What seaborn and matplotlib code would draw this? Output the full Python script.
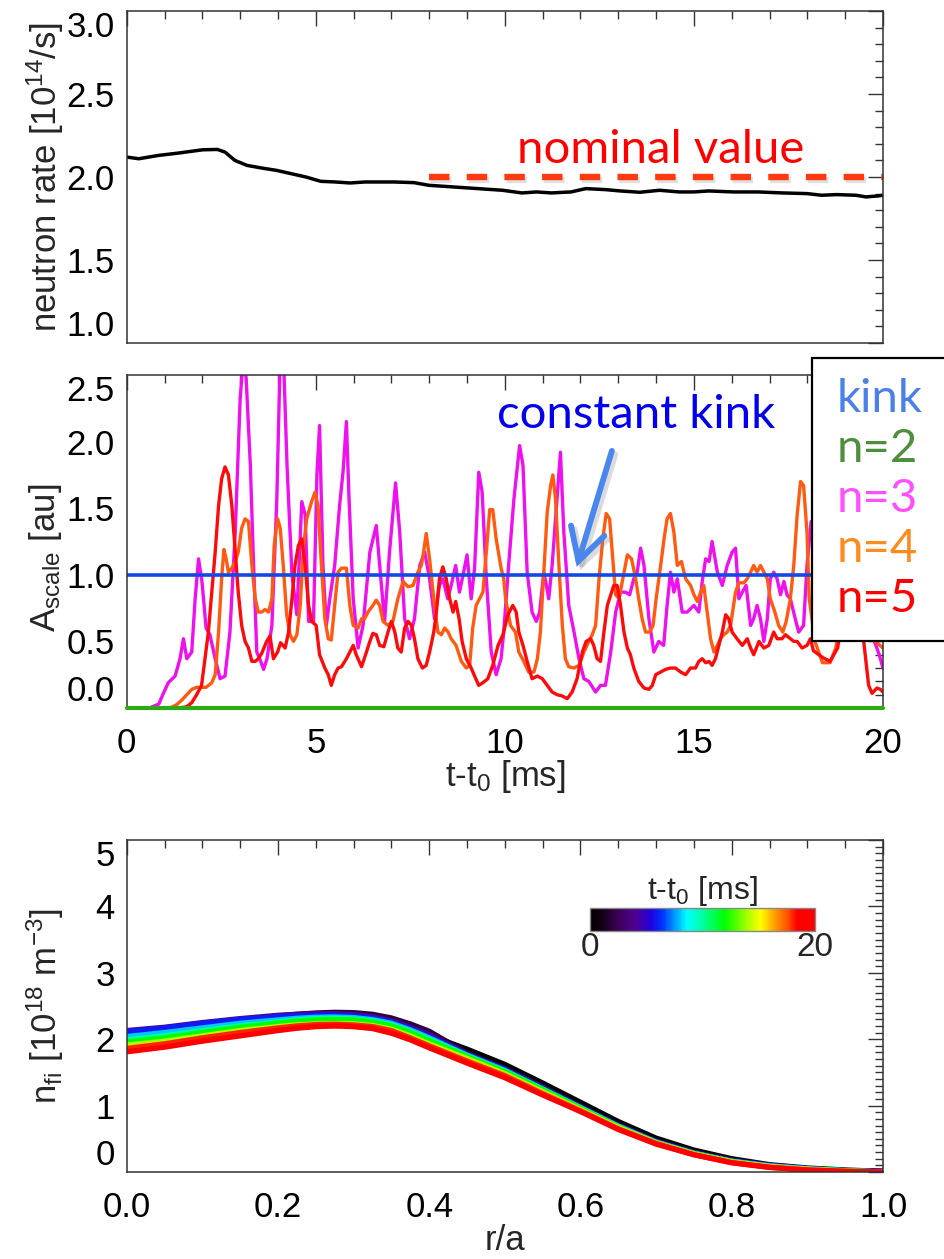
import numpy as np
import pandas as pd
import matplotlib
matplotlib.use("Agg")
import matplotlib.pyplot as plt
import seaborn as sns
from matplotlib import patheffects as pe
from matplotlib.colors import LinearSegmentedColormap, Normalize
from matplotlib.cm import ScalarMappable
from matplotlib.ticker import MultipleLocator
from matplotlib.patches import Rectangle

# ---------------- data ----------------
# neutron rate (top panel)
t_neutron = [0.0, 0.32, 0.84, 1.36, 1.75, 2.01, 2.4, 2.6, 2.86, 3.18, 3.57, 3.96, 4.35, 4.74,
             5.13, 5.52, 5.91, 6.3, 7.08, 7.6, 7.99, 8.64, 9.29, 9.94, 10.45, 10.84, 11.23,
             11.75, 12.14, 12.66, 13.05, 13.57, 14.09, 14.61, 15.0, 15.39, 16.04, 16.69,
             17.34, 17.99, 18.38, 18.77, 19.29, 19.55, 19.87, 20.0]
neutron_rate = [2.12, 2.11, 2.13, 2.144, 2.156, 2.164, 2.166, 2.15, 2.10, 2.07, 2.054, 2.04,
                2.02, 2.0, 1.974, 1.97, 1.964, 1.97, 1.97, 1.966, 1.95, 1.94, 1.93, 1.92,
                1.904, 1.91, 1.904, 1.91, 1.93, 1.924, 1.916, 1.908, 1.92, 1.91, 1.91, 1.916,
                1.91, 1.91, 1.904, 1.90, 1.89, 1.894, 1.89, 1.88, 1.886, 1.89]
nominal_t = [8.0, 20.0]
nominal_rate = [2.0, 2.0]

# mode amplitudes (middle panel)
kink_t = [0.0, 20.0]
kink_A = [1.0, 1.0]
n2_t = [0.0, 20.0]
n2_A = [0.0, 0.0]

n3_t = [0, 0.6, 0.85, 0.97, 1.1, 1.28, 1.41, 1.5, 1.59, 1.72, 1.81, 1.9, 1.99, 2.1, 2.2, 2.34,
        2.47, 2.6, 2.73, 2.87, 3.0, 3.09, 3.16, 3.27, 3.35, 3.44, 3.53, 3.62, 3.71, 3.84, 3.97,
        4.06, 4.15, 4.24, 4.37, 4.5, 4.63, 4.72, 4.81, 4.94, 5.03, 5.1, 5.19, 5.28, 5.37, 5.5,
        5.63, 5.72, 5.81, 5.88, 5.99, 6.12, 6.25, 6.43, 6.6, 6.69, 6.82, 6.95, 7.11, 7.22,
        7.35, 7.48, 7.61, 7.75, 7.88, 8.01, 8.14, 8.27, 8.36, 8.49, 8.58, 8.7, 8.8, 8.91, 9.0,
        9.11, 9.2, 9.31, 9.4, 9.51, 9.64, 9.77, 9.9, 9.97, 10.1, 10.24, 10.39, 10.48, 10.59,
        10.72, 10.83, 10.92, 11.03, 11.1, 11.16, 11.25, 11.38, 11.47, 11.56, 11.69, 11.83,
        11.96, 12.09, 12.22, 12.4, 12.53, 12.66, 12.8, 12.93, 13.06, 13.19, 13.3, 13.41, 13.5,
        13.59, 13.68, 13.81, 13.9, 13.94, 14.07, 14.2, 14.29, 14.38, 14.47, 14.56, 14.69,
        14.82, 15.0, 15.13, 15.22, 15.31, 15.4, 15.48, 15.62, 15.75, 15.88, 16.01, 16.1,
        16.19, 16.28, 16.38, 16.5, 16.58, 16.67, 16.76, 16.85, 16.94, 17.02, 17.11, 17.2,
        17.29, 17.38, 17.46, 17.55, 17.68, 17.77, 17.9, 17.99, 18.1, 18.3, 18.6, 18.9, 19.2,
        19.5, 19.7, 19.8, 19.9, 20.0]
n3_A = [0, 0.0, 0.03, 0.11, 0.19, 0.24, 0.37, 0.52, 0.37, 0.42, 0.82, 1.12, 0.95, 0.6, 0.55,
        0.37, 0.22, 0.24, 0.57, 1.32, 2.32, 2.65, 2.47, 1.82, 1.12, 0.42, 0.36, 0.29, 0.37,
        0.62, 1.57, 2.65, 2.6, 1.82, 1.0, 0.7, 1.55, 1.45, 0.65, 0.65, 1.75, 2.12, 1.07, 0.62,
        0.82, 1.07, 1.52, 1.77, 2.15, 1.57, 0.82, 0.45, 0.62, 1.17, 1.37, 1.07, 0.65, 1.17,
        1.69, 1.32, 0.67, 0.52, 0.67, 1.07, 1.17, 0.97, 0.67, 0.92, 0.97, 0.82, 0.92, 1.07,
        0.87, 1.02, 1.15, 0.82, 1.05, 1.77, 1.62, 0.97, 0.42, 0.25, 0.37, 0.57, 1.07, 1.57,
        1.97, 1.82, 1.02, 0.72, 0.65, 0.72, 1.02, 0.92, 0.82, 1.07, 1.57, 1.92, 1.32, 0.77,
        0.57, 0.37, 0.22, 0.2, 0.12, 0.17, 0.17, 0.42, 0.72, 0.87, 0.87, 0.85, 0.97, 1.02,
        1.2, 1.07, 0.67, 0.5, 0.42, 0.5, 0.47, 0.77, 1.02, 0.87, 0.97, 0.72, 0.72, 0.77, 0.72,
        0.95, 1.12, 1.1, 1.25, 1.02, 0.92, 1.07, 1.17, 1.2, 0.82, 0.87, 0.92, 0.62, 0.67, 0.77,
        0.67, 0.5, 0.67, 0.97, 1.02, 0.97, 0.85, 0.95, 0.85, 0.82, 0.67, 0.57, 0.62, 1.07, 1.4,
        1.1, 0.8, 1.2, 0.9, 0.75, 0.55, 0.48, 0.4, 0.3]

n4_t = [0, 1.15, 1.32, 1.46, 1.59, 1.72, 1.85, 2.1, 2.25, 2.34, 2.43, 2.51, 2.57, 2.63, 2.69,
        2.78, 2.87, 2.95, 3.04, 3.13, 3.22, 3.31, 3.4, 3.48, 3.57, 3.66, 3.75, 3.84, 3.9, 3.99,
        4.06, 4.14, 4.23, 4.32, 4.41, 4.5, 4.59, 4.67, 4.76, 4.89, 4.98, 5.06, 5.15, 5.24,
        5.33, 5.41, 5.5, 5.59, 5.68, 5.81, 5.9, 5.99, 6.12, 6.21, 6.29, 6.38, 6.51, 6.6, 6.69,
        6.78, 6.91, 7.04, 7.17, 7.31, 7.44, 7.57, 7.7, 7.79, 7.85, 7.92, 8.01, 8.12, 8.23,
        8.32, 8.41, 8.5, 8.58, 8.71, 8.85, 8.98, 9.07, 9.15, 9.24, 9.33, 9.42, 9.51, 9.6,
        9.68, 9.77, 9.9, 9.97, 10.02, 10.15, 10.28, 10.37, 10.5, 10.63, 10.77, 10.86, 10.94,
        11.03, 11.12, 11.21, 11.27, 11.34, 11.43, 11.52, 11.6, 11.69, 11.83, 11.96, 12.09,
        12.22, 12.31, 12.4, 12.49, 12.59, 12.68, 12.77, 12.84, 12.93, 13.02, 13.12, 13.24,
        13.35, 13.46, 13.54, 13.63, 13.72, 13.83, 13.92, 14.0, 14.12, 14.21, 14.29, 14.38,
        14.47, 14.56, 14.67, 14.78, 14.91, 15.0, 15.09, 15.18, 15.26, 15.35, 15.44, 15.53,
        15.62, 15.7, 15.79, 15.88, 15.97, 16.1, 16.19, 16.32, 16.41, 16.5, 16.58, 16.67,
        16.76, 16.85, 16.94, 17.02, 17.14, 17.24, 17.35, 17.44, 17.55, 17.64, 17.73, 17.82,
        17.9, 17.99, 18.05, 18.2, 18.4, 18.6, 18.75, 19.0, 19.3, 19.6, 19.8, 20.0]
n4_A = [0, 0, 0.025, 0.06, 0.1, 0.14, 0.155, 0.155, 0.19, 0.25, 0.57, 0.97, 1.19, 1.12, 1.02,
        1.05, 1.1, 1.17, 1.35, 1.42, 1.4, 1.07, 0.82, 0.72, 0.72, 0.74, 0.72, 0.82, 1.22,
        1.42, 1.35, 1.07, 0.7, 0.55, 0.5, 0.55, 0.77, 1.2, 1.42, 1.55, 1.62, 1.52, 1.07, 0.67,
        0.52, 0.51, 0.77, 1.02, 1.05, 1.05, 0.77, 0.62, 0.6, 0.67, 0.67, 0.72, 0.77, 0.81,
        0.77, 0.65, 0.62, 0.65, 0.82, 0.95, 0.91, 0.92, 1.02, 1.07, 1.17, 1.31, 1.12, 0.82,
        0.57, 0.55, 0.6, 0.57, 0.52, 0.47, 0.35, 0.3, 0.32, 0.6, 0.77, 0.82, 0.87, 1.17, 1.49,
        1.49, 1.27, 1.05, 0.97, 0.82, 0.62, 0.57, 0.42, 0.35, 0.27, 0.27, 0.37, 0.57, 1.02,
        1.47, 1.67, 1.75, 1.57, 1.07, 0.62, 0.37, 0.31, 0.3, 0.32, 0.42, 0.5, 0.55, 0.62,
        0.97, 1.27, 1.46, 1.42, 1.17, 0.85, 0.82, 0.97, 1.15, 1.12, 0.97, 0.82, 0.67, 0.57,
        0.57, 0.62, 0.82, 1.07, 1.27, 1.42, 1.46, 1.32, 1.07, 1.1, 0.97, 0.92, 0.85, 0.8,
        0.87, 0.92, 0.72, 0.52, 0.42, 0.47, 0.52, 0.55, 0.57, 0.62, 0.87, 0.94, 0.94, 0.97,
        1.02, 1.07, 1.02, 1.07, 1.02, 0.97, 0.82, 0.72, 0.62, 0.57, 0.65, 0.82, 1.07, 1.45,
        1.7, 1.67, 1.32, 0.82, 0.5, 0.34, 0.34, 0.45, 0.9, 1.1, 0.7, 0.5, 0.45]

n5_t = [0, 1.41, 1.59, 1.72, 1.85, 1.98, 2.07, 2.16, 2.25, 2.34, 2.43, 2.51, 2.6, 2.69, 2.78,
        2.87, 2.95, 3.04, 3.13, 3.22, 3.31, 3.4, 3.48, 3.57, 3.7, 3.79, 3.88, 3.99, 4.07,
        4.19, 4.28, 4.37, 4.45, 4.54, 4.63, 4.72, 4.81, 4.89, 5.01, 5.1, 5.24, 5.33, 5.41,
        5.5, 5.59, 5.68, 5.81, 5.9, 5.99, 6.07, 6.21, 6.34, 6.43, 6.51, 6.6, 6.69, 6.8, 6.91,
        7.0, 7.09, 7.17, 7.26, 7.35, 7.44, 7.53, 7.61, 7.7, 7.82, 7.92, 8.01, 8.12, 8.19,
        8.27, 8.36, 8.45, 8.54, 8.63, 8.7, 8.79, 8.87, 8.98, 9.11, 9.2, 9.31, 9.42, 9.55,
        9.68, 9.82, 9.95, 10.08, 10.21, 10.3, 10.37, 10.48, 10.59, 10.72, 10.86, 10.99, 11.12,
        11.25, 11.38, 11.52, 11.65, 11.78, 11.91, 12.05, 12.15, 12.27, 12.35, 12.44, 12.53,
        12.62, 12.71, 12.8, 12.88, 12.97, 13.06, 13.15, 13.24, 13.32, 13.41, 13.54, 13.68,
        13.81, 13.9, 13.99, 14.12, 14.25, 14.38, 14.51, 14.65, 14.78, 14.91, 15.04, 15.13,
        15.22, 15.31, 15.4, 15.48, 15.57, 15.66, 15.75, 15.84, 15.92, 16.01, 16.14, 16.28,
        16.41, 16.5, 16.58, 16.72, 16.85, 16.98, 17.11, 17.2, 17.33, 17.42, 17.55, 17.64,
        17.73, 17.86, 17.99, 18.08, 18.16, 18.4, 18.6, 18.8, 19.0, 19.2, 19.4, 19.49, 19.62,
        19.71, 19.84, 19.93, 20.0]
n5_A = [0, 0, 0.01, 0.04, 0.1, 0.17, 0.37, 0.57, 0.87, 1.17, 1.52, 1.72, 1.81, 1.75, 1.52,
        1.17, 0.87, 0.62, 0.5, 0.45, 0.35, 0.35, 0.37, 0.41, 0.5, 0.54, 0.37, 0.42, 0.49,
        0.45, 0.57, 0.82, 1.07, 1.22, 1.27, 1.07, 0.77, 0.65, 0.62, 0.4, 0.3, 0.25, 0.17,
        0.25, 0.3, 0.31, 0.37, 0.42, 0.47, 0.4, 0.31, 0.42, 0.5, 0.56, 0.55, 0.47, 0.46, 0.57,
        0.65, 0.57, 0.45, 0.42, 0.6, 0.65, 0.62, 0.52, 0.37, 0.3, 0.32, 0.42, 0.57, 0.72,
        0.97, 1.06, 0.97, 0.82, 0.72, 0.8, 0.67, 0.5, 0.37, 0.3, 0.24, 0.17, 0.19, 0.22, 0.32,
        0.47, 0.55, 0.7, 0.77, 0.72, 0.57, 0.47, 0.35, 0.22, 0.24, 0.22, 0.17, 0.12, 0.1,
        0.09, 0.07, 0.12, 0.22, 0.42, 0.5, 0.52, 0.47, 0.37, 0.35, 0.57, 0.77, 0.85, 0.92,
        0.92, 0.77, 0.57, 0.45, 0.4, 0.3, 0.2, 0.15, 0.14, 0.17, 0.25, 0.27, 0.29, 0.3, 0.3,
        0.27, 0.25, 0.3, 0.3, 0.35, 0.37, 0.34, 0.35, 0.32, 0.37, 0.47, 0.57, 0.7, 0.67,
        0.57, 0.52, 0.47, 0.52, 0.45, 0.4, 0.5, 0.45, 0.47, 0.57, 0.52, 0.52, 0.55, 0.52, 0.5,
        0.5, 0.45, 0.47, 0.52, 0.43, 0.38, 0.35, 0.45, 0.8, 0.95, 0.7, 0.5, 0.17, 0.11, 0.15,
        0.14, 0.12]

legend_labels = ["kink", "n=2", "n=3", "n=4", "n=5"]

# fast-ion density profiles (bottom panel)
r_over_a = [0.0, 0.05, 0.1, 0.15, 0.2, 0.225, 0.25, 0.275, 0.3, 0.325, 0.35, 0.375, 0.4,
            0.45, 0.5, 0.55, 0.6, 0.65, 0.7, 0.75, 0.8, 0.85, 0.9, 0.95, 1.0]
profile_times = [0, 2, 4, 6, 8, 10, 12, 14, 16, 18, 20]
nfi_t0 = [2.07, 2.12, 2.19, 2.26, 2.32, 2.345, 2.36, 2.365, 2.355, 2.325, 2.265, 2.17, 2.06, 1.85, 1.62, 1.34, 1.05, 0.76, 0.51, 0.33, 0.20, 0.11, 0.06, 0.03, 0.01]
nfi_t2 = [2.10, 2.15, 2.22, 2.29, 2.35, 2.375, 2.395, 2.405, 2.40, 2.375, 2.32, 2.23, 2.12, 1.79, 1.56, 1.28, 0.99, 0.71, 0.47, 0.30, 0.18, 0.10, 0.05, 0.02, 0.01]
nfi_t4 = [2.13, 2.18, 2.25, 2.31, 2.36, 2.375, 2.385, 2.385, 2.37, 2.34, 2.28, 2.18, 2.07, 1.78, 1.55, 1.27, 0.98, 0.70, 0.46, 0.29, 0.17, 0.10, 0.05, 0.02, 0.01]
nfi_t6 = [2.12, 2.17, 2.24, 2.30, 2.34, 2.355, 2.365, 2.365, 2.35, 2.32, 2.26, 2.16, 2.04, 1.77, 1.54, 1.26, 0.975, 0.695, 0.455, 0.29, 0.17, 0.10, 0.05, 0.02, 0.01]
nfi_t8 = [2.04, 2.10, 2.17, 2.24, 2.29, 2.315, 2.33, 2.335, 2.325, 2.295, 2.24, 2.14, 2.02, 1.76, 1.53, 1.25, 0.97, 0.69, 0.45, 0.28, 0.16, 0.09, 0.05, 0.02, 0.00]
nfi_t10 = [1.99, 2.05, 2.13, 2.20, 2.26, 2.29, 2.31, 2.315, 2.305, 2.275, 2.22, 2.12, 2.00, 1.75, 1.52, 1.245, 0.965, 0.685, 0.445, 0.28, 0.16, 0.09, 0.04, 0.02, 0.00]
nfi_t12 = [1.96, 2.02, 2.10, 2.18, 2.24, 2.27, 2.29, 2.295, 2.29, 2.26, 2.20, 2.10, 1.98, 1.74, 1.51, 1.24, 0.96, 0.68, 0.44, 0.28, 0.16, 0.08, 0.04, 0.02, 0.00]
nfi_t14 = [1.91, 1.97, 2.05, 2.13, 2.19, 2.215, 2.23, 2.235, 2.23, 2.205, 2.15, 2.05, 1.93, 1.71, 1.48, 1.21, 0.94, 0.67, 0.44, 0.27, 0.15, 0.08, 0.04, 0.01, 0.00]
nfi_t16 = [1.87, 1.93, 2.01, 2.09, 2.15, 2.175, 2.19, 2.195, 2.19, 2.165, 2.11, 2.01, 1.90, 1.68, 1.46, 1.19, 0.93, 0.66, 0.43, 0.27, 0.15, 0.08, 0.04, 0.01, 0.00]
nfi_t18 = [1.86, 1.93, 2.02, 2.10, 2.17, 2.20, 2.22, 2.225, 2.215, 2.19, 2.13, 2.02, 1.90, 1.67, 1.45, 1.18, 0.92, 0.65, 0.43, 0.26, 0.14, 0.07, 0.03, 0.01, 0.00]
nfi_t20 = [1.81, 1.88, 1.97, 2.05, 2.13, 2.165, 2.19, 2.20, 2.19, 2.16, 2.09, 1.99, 1.87, 1.64, 1.42, 1.16, 0.91, 0.64, 0.42, 0.26, 0.14, 0.07, 0.03, 0.01, 0.00]
nfi_profiles = [nfi_t0, nfi_t2, nfi_t4, nfi_t6, nfi_t8, nfi_t10, nfi_t12, nfi_t14, nfi_t16,
                nfi_t18, nfi_t20]

# ---------------- style ----------------
sns.set_theme(style="white")
plt.rcParams["font.family"] = ["Liberation Sans", "DejaVu Sans"]
plt.rcParams["mathtext.fontset"] = "custom"
plt.rcParams["mathtext.rm"] = "Liberation Sans"
plt.rcParams["mathtext.it"] = "Liberation Sans:italic"
plt.rcParams["mathtext.bf"] = "Liberation Sans:bold"
plt.rcParams["mathtext.default"] = "regular"

W, H = 944, 1259
fig = plt.figure(figsize=(W / 100, H / 100), dpi=100)

def ax_rect(left, top, right, bottom):
    return [left / W, 1 - bottom / H, (right - left) / W, (bottom - top) / H]

ax1 = fig.add_axes(ax_rect(126.7, 11, 883, 343))
ax2 = fig.add_axes(ax_rect(126.7, 375, 883, 708))
ax3 = fig.add_axes(ax_rect(126.7, 840, 883, 1172))

TICK_FS = 25
LABEL_FS = 25
AXC = "#333333"

def style_axis(ax, xmaj, xmin, ymaj, ymin):
    ax.xaxis.set_major_locator(MultipleLocator(xmaj))
    ax.xaxis.set_minor_locator(MultipleLocator(xmin))
    ax.yaxis.set_major_locator(MultipleLocator(ymaj))
    ax.yaxis.set_minor_locator(MultipleLocator(ymin))
    ax.tick_params(which="both", direction="in", top=True, right=True, color=AXC,
                   width=1.0, labelsize=TICK_FS, labelcolor="black")
    ax.tick_params(which="major", length=10.8)
    ax.tick_params(which="minor", length=5.6)
    ax.tick_params(axis="x", pad=14)
    ax.tick_params(axis="y", pad=8.5)
    for s in ax.spines.values():
        s.set_color(AXC)
        s.set_linewidth(1.1)
    ax.set_facecolor("white")
    ax.grid(False)

# ---------------- top panel ----------------
sns.lineplot(x=t_neutron, y=neutron_rate, ax=ax1, color="black", lw=2.5,
             estimator=None, sort=False, legend=False)
ax1.plot(nominal_t, nominal_rate, color="#FF3A10", lw=4.6, dashes=(3.2, 2.7),
         solid_capstyle="butt", dash_capstyle="butt",
         path_effects=[pe.SimpleLineShadow(offset=(1.0, -2.0), shadow_color="#999999", alpha=0.3),
                       pe.Normal()])
ax1.set_xlim(0, 20)
ax1.set_ylim(1.0, 3.0)
style_axis(ax1, 5, 1, 0.5, 0.1)
ax1.set_yticks([1.0, 1.5, 2.0, 2.5, 3.0])
ax1.set_yticklabels(["1.0", "1.5", "2.0", "2.5", "3.0"])
ax1.tick_params(axis="x", labelbottom=False)
ax1.set_xlabel("")
ax1.set_ylabel("neutron rate [10$^{14}$/s]", fontsize=LABEL_FS, va="center")
ax1.yaxis.set_label_coords(-0.108, 0.5)

# ---------------- middle panel ----------------
sns.lineplot(x=n3_t, y=n3_A, ax=ax2, color="#EE10EE", lw=2.4, estimator=None, sort=False, legend=False)
sns.lineplot(x=n4_t, y=n4_A, ax=ax2, color="#FF5A10", lw=2.4, estimator=None, sort=False, legend=False)
sns.lineplot(x=n5_t, y=n5_A, ax=ax2, color="#FF0A0A", lw=2.4, estimator=None, sort=False, legend=False)
sns.lineplot(x=kink_t, y=kink_A, ax=ax2, color="#1448E6", lw=2.6, estimator=None, sort=False, legend=False)
l2 = sns.lineplot(x=n2_t, y=n2_A, ax=ax2, color="#2EAA14", lw=3.0, estimator=None, sort=False, legend=False)
l2.lines[-1].set_clip_on(False)
l2.lines[-1].set_zorder(5)
ax2.set_xlim(0, 20)
ax2.set_ylim(0, 2.5)
style_axis(ax2, 5, 1, 0.5, 0.1)
ax2.set_yticks([0, 0.5, 1.0, 1.5, 2.0, 2.5])
ax2.set_yticklabels(["0.0", "0.5", "1.0", "1.5", "2.0", "2.5"])
ax2.set_xticks([0, 5, 10, 15, 20])
ax2.set_xticklabels(["0", "5", "10", "15", "20"])
ax2.set_ylabel("A$_{scale}$ [au]", fontsize=LABEL_FS, va="center")
ax2.yaxis.set_label_coords(-0.108, 0.45)
ax2.set_xlabel("t-t$_0$ [ms]", fontsize=LABEL_FS, va="center")
ax2.xaxis.set_label_coords(0.5, -0.207)

# annotations
ANN_FONT = ["Lato", "DejaVu Sans"]
ANN_FS = 34
fig.text(497 / W, 1 - 428 / H, "constant kink", color="#0000EE", fontsize=ANN_FS,
         family=ANN_FONT, va="baseline", ha="left")
fig.text(517 / W, 1 - 163 / H, "nominal value", color="#FF0000", fontsize=ANN_FS,
         family=ANN_FONT, va="baseline", ha="left")
ax2.annotate("", xy=(11.9, 1.06), xytext=(12.83, 1.93), xycoords="data",
             arrowprops=dict(arrowstyle="->,head_length=0.6,head_width=0.33", lw=4.2,
                             color="#4A86F0", mutation_scale=38, shrinkA=0, shrinkB=0,
                             capstyle="round", joinstyle="miter",
                             path_effects=[pe.SimpleLineShadow(offset=(2.5, -2.5), shadow_color="#888888", alpha=0.3),
                                           pe.Normal()]))

# legend box
fig.patches.append(Rectangle((812 / W, 1 - 641 / H), 0.2, (641 - 358) / H,
                             transform=fig.transFigure, facecolor="white",
                             edgecolor="black", lw=1.6, zorder=10))
legend_colors = ["#4A80E8", "#4E8F3E", "#FF50FF", "#FF8A20", "#FF0000"]
legend_baselines = [411.7, 461.7, 512, 562, 612]
for lab, col, yb in zip(legend_labels, legend_colors, legend_baselines):
    fig.text(836.7 / W, 1 - yb / H, lab, color=col, fontsize=ANN_FS, family=ANN_FONT,
             va="baseline", ha="left", zorder=11)

# ---------------- bottom panel ----------------
cmap = LinearSegmentedColormap.from_list("idl_rainbow", [
    (0.0, "#000000"), (0.05, "#100010"), (0.12, "#3a0055"), (0.2, "#50008f"),
    (0.27, "#2200e0"), (0.32, "#0030ff"), (0.38, "#00a0ff"), (0.43, "#00ffff"),
    (0.5, "#00ffa0"), (0.6, "#00ff00"), (0.7, "#a8ff00"), (0.76, "#ffff00"),
    (0.82, "#ffa000"), (0.88, "#ff5000"), (0.92, "#ff0000"), (1.0, "#ff0000")])
norm = Normalize(0, 20)

rows = []
for tt, prof in zip(profile_times, nfi_profiles):
    for rr, vv in zip(r_over_a, prof):
        rows.append((rr, vv, tt))
df = pd.DataFrame(rows, columns=["r", "nfi", "t"])
sns.lineplot(data=df, x="r", y="nfi", hue="t", units="t", estimator=None, sort=False,
             palette=cmap, hue_norm=norm, legend=False, lw=3.8, ax=ax3)
for ln in ax3.lines:
    ln.set_solid_joinstyle("round")
ax3.set_xlim(0, 1)
ax3.set_ylim(0, 5)
style_axis(ax3, 0.2, 0.05, 1, 0.1)
ax3.set_xticks([0, 0.2, 0.4, 0.6, 0.8, 1.0])
ax3.set_xticklabels(["0.0", "0.2", "0.4", "0.6", "0.8", "1.0"])
ax3.set_yticks([0, 1, 2, 3, 4, 5])
ax3.set_yticklabels(["0", "1", "2", "3", "4", "5"])
ax3.set_ylabel("n$_{fi}$ [10$^{18}$ m$^{-3}$]", fontsize=LABEL_FS, va="center")
ax3.yaxis.set_label_coords(-0.108, 0.5)
ax3.set_xlabel("r/a", fontsize=LABEL_FS, va="center")
ax3.xaxis.set_label_coords(0.5, -0.205)

# end tick labels shifted inward (IDL style)
for ax in (ax1, ax2, ax3):
    ticks = ax.yaxis.get_major_ticks()
    ticks[0].label1.set_va("bottom")
    ticks[-1].label1.set_va("top")

# colorbar
cax = fig.add_axes(ax_rect(590, 908, 815, 931))
cb = fig.colorbar(ScalarMappable(norm=norm, cmap=cmap), cax=cax, orientation="horizontal")
cb.set_ticks([0, 20])
cb.set_ticklabels(["0", "20"])
cax.xaxis.set_minor_locator(MultipleLocator(20 / 12))
cax.tick_params(which="major", length=0, labelsize=24, pad=1)
cax.tick_params(which="minor", direction="in", length=5, width=1, color="black", bottom=True)
cb.outline.set_edgecolor("#888888")
cb.outline.set_linewidth(1.0)
cax.set_title("t-t$_0$ [ms]", fontsize=23, pad=6)

fig.savefig("out.png", dpi=100)
